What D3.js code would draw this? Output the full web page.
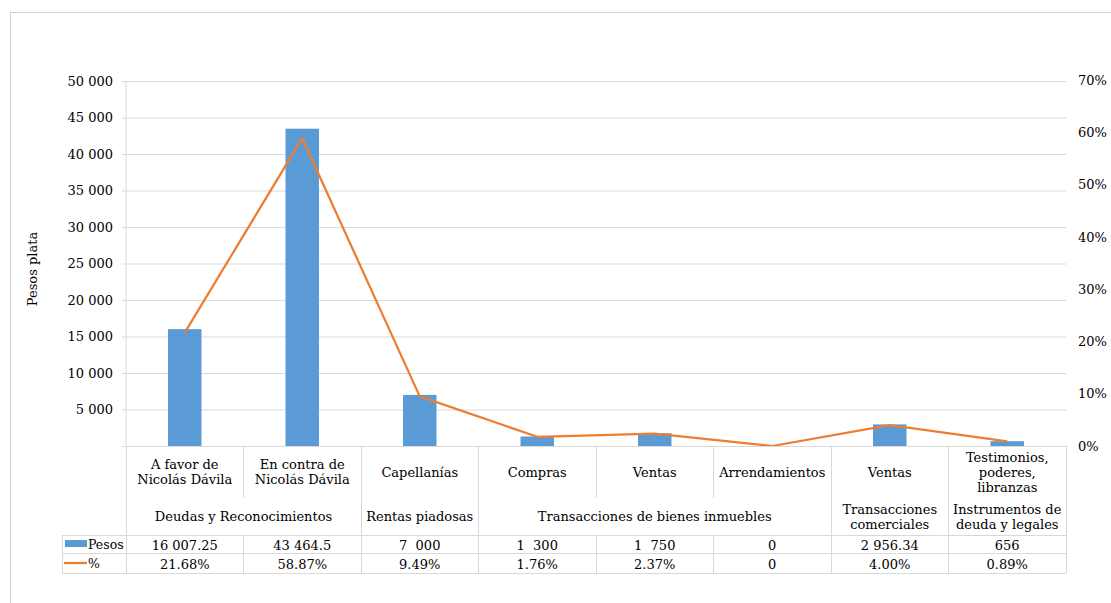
<!DOCTYPE html>
<html>
<head>
<meta charset="utf-8">
<script src="https://cdn.jsdelivr.net/npm/d3@7"></script>
<style>
    body { margin: 0; background: #fff; }
    text { font-family: "DejaVu Serif", serif; fill: #000; white-space: pre; }
</style>
</head>
<body>
<svg></svg>
<script>
// data
var categories = [
    ["A favor de", "Nicolás Dávila"],
    ["En contra de", "Nicolás Dávila"],
    ["Capellanías"],
    ["Compras"],
    ["Ventas"],
    ["Arrendamientos"],
    ["Ventas"],
    ["Testimonios,", "poderes,", "libranzas"]
];
// group label, first column, number of columns
var groups = [
    { label: ["Deudas y Reconocimientos"], start: 0, span: 2 },
    { label: ["Rentas piadosas"], start: 2, span: 1 },
    { label: ["Transacciones de bienes inmuebles"], start: 3, span: 3 },
    { label: ["Transacciones", "comerciales"], start: 6, span: 1 },
    { label: ["Instrumentos de", "deuda y legales"], start: 7, span: 1 }
];
var pesos = [16007.25, 43464.5, 7000, 1300, 1750, 0, 2956.34, 656];
var percent = [21.68, 58.87, 9.49, 1.76, 2.37, 0, 4.00, 0.89];
var pesosLabels = ["16 007.25", "43 464.5", "7  000", "1  300", "1  750", "0", "2 956.34", "656"];
var percentLabels = ["21.68%", "58.87%", "9.49%", "1.76%", "2.37%", "0", "4.00%", "0.89%"];
var leftTicks = [5000, 10000, 15000, 20000, 25000, 30000, 35000, 40000, 45000, 50000];
var rightTicks = [0, 10, 20, 30, 40, 50, 60, 70];

var svgWidth = 1111, svgHeight = 603;
// plot area (window.top is reserved, so plot* names)
var plotLeft = 126, plotRight = 1066, plotTop = 81, plotBottom = 446;
var fontSize = 13;
var gridColor = "#d9d9d9";

var svg = d3.select("svg")
    .attr("width", svgWidth)
    .attr("height", svgHeight);

// outer frame of the chart
svg.append("rect")
    .attr("x", 10.5).attr("y", 12.5)
    .attr("width", svgWidth + 10).attr("height", svgHeight + 10)
    .attr("fill", "none")
    .attr("stroke", "#d0d0d0");

var x = d3.scaleBand()
    .domain(d3.range(categories.length))
    .range([plotLeft, plotRight]);

var yLeft = d3.scaleLinear().domain([0, 50000]).range([plotBottom, plotTop]);
var yRight = d3.scaleLinear().domain([0, 70]).range([plotBottom, plotTop - 1]);

var fmt = d3.formatLocale({ decimal: ".", thousands: " ", grouping: [3], currency: ["", ""] }).format(",");

// gridlines + left tick labels
var leftAxis = d3.axisLeft(yLeft)
    .tickValues(leftTicks)
    .tickSize(0)
    .tickFormat(fmt);

var gLeft = svg.append("g")
    .attr("transform", "translate(" + plotLeft + ",0)")
    .call(leftAxis);
gLeft.select(".domain").remove();
gLeft.selectAll(".tick line")
    .attr("x1", -4)
    .attr("x2", plotRight - plotLeft)
    .attr("stroke", gridColor);
gLeft.selectAll(".tick text")
    .style("font-family", "DejaVu Serif")
    .style("font-size", fontSize + "px")
    .attr("x", -13);

// left vertical axis line
svg.append("line")
    .attr("x1", plotLeft).attr("x2", plotLeft)
    .attr("y1", plotTop).attr("y2", plotBottom)
    .attr("stroke", gridColor);

// right axis labels (no line)
var rightAxis = d3.axisRight(yRight)
    .tickValues(rightTicks)
    .tickSize(0)
    .tickPadding(12)
    .tickFormat(function (d) { return d + "%"; });

var gRight = svg.append("g")
    .attr("transform", "translate(" + plotRight + ",0)")
    .call(rightAxis);
gRight.select(".domain").remove();
gRight.selectAll(".tick text")
    .style("font-family", "DejaVu Serif")
    .style("font-size", fontSize + "px");

// axis title
svg.append("text")
    .attr("transform", "translate(37," + 269 + ") rotate(-90)")
    .attr("text-anchor", "middle")
    .style("font-size", fontSize + "px")
    .text("Pesos plata");

// bars
var barWidth = x.bandwidth() * 0.285;
svg.selectAll(".bar")
    .data(pesos)
    .enter()
    .append("rect")
    .attr("class", "bar")
    .attr("x", function (d, i) { return x(i) + (x.bandwidth() - barWidth) / 2; })
    .attr("y", function (d) { return yLeft(d); })
    .attr("width", barWidth)
    .attr("height", function (d) { return plotBottom - yLeft(d); })
    .attr("fill", "#5b9bd5");

// percentage line
var line = d3.line()
    .x(function (d, i) { return x(i) + x.bandwidth() / 2; })
    .y(function (d) { return yRight(d); });

svg.append("path")
    .datum(percent)
    .attr("d", line)
    .attr("fill", "none")
    .attr("stroke", "#ed7d31")
    .attr("stroke-width", 2.25)
    .attr("stroke-linejoin", "round");

// ---- table under the plot ----
var row1Bottom = 498, row2Bottom = 535, row3Bottom = 553, row4Bottom = 573;
var legendLeft = 62;
var lineH = 15;

var table = svg.append("g")
    .attr("stroke", gridColor)
    .attr("shape-rendering", "crispEdges");

// horizontal lines
table.append("line").attr("x1", plotLeft - 4).attr("x2", plotRight).attr("y1", plotBottom).attr("y2", plotBottom);
[row2Bottom, row3Bottom, row4Bottom].forEach(function (yy) {
    table.append("line").attr("x1", legendLeft).attr("x2", plotRight).attr("y1", yy).attr("y2", yy);
});
// left + right edges
table.append("line").attr("x1", plotLeft).attr("x2", plotLeft).attr("y1", plotBottom).attr("y2", row4Bottom);
table.append("line").attr("x1", plotRight).attr("x2", plotRight).attr("y1", plotBottom).attr("y2", row4Bottom);
table.append("line").attr("x1", legendLeft).attr("x2", legendLeft).attr("y1", row2Bottom).attr("y2", row4Bottom);

// inner column boundaries: full height where a group starts, else only in first row
var groupStarts = groups.map(function (g) { return g.start; });
d3.range(1, categories.length).forEach(function (i) {
    var xx = x(i);
    var isGroup = groupStarts.indexOf(i) >= 0;
    table.append("line")
        .attr("x1", xx).attr("x2", xx)
        .attr("y1", plotBottom)
        .attr("y2", isGroup ? row2Bottom : row1Bottom);
    table.append("line")
        .attr("x1", xx).attr("x2", xx)
        .attr("y1", row2Bottom).attr("y2", row4Bottom);
});

// writes centered multi-line text
function multiLine(lines, cx, cy) {
    var t = svg.append("text")
        .attr("text-anchor", "middle")
        .style("font-size", fontSize + "px");
    lines.forEach(function (s, k) {
        t.append("tspan")
            .attr("x", cx)
            .attr("y", cy + (k - (lines.length - 1) / 2) * lineH)
            .attr("dy", "0.35em")
            .text(s);
    });
}

categories.forEach(function (c, i) {
    multiLine(c, x(i) + x.bandwidth() / 2, (plotBottom + row1Bottom) / 2);
});

groups.forEach(function (g) {
    var cx = x(g.start) + g.span * x.bandwidth() / 2;
    multiLine(g.label, cx, (row1Bottom + row2Bottom) / 2);
});

pesosLabels.forEach(function (s, i) {
    multiLine([s], x(i) + x.bandwidth() / 2, (row2Bottom + row3Bottom) / 2 + 1);
});
percentLabels.forEach(function (s, i) {
    multiLine([s], x(i) + x.bandwidth() / 2, (row3Bottom + row4Bottom) / 2 + 1);
});

// legend keys in the table
svg.append("rect")
    .attr("x", 65).attr("y", 540)
    .attr("width", 22).attr("height", 7)
    .attr("fill", "#5b9bd5");
svg.append("text")
    .attr("x", 88).attr("y", (row2Bottom + row3Bottom) / 2 + 1)
    .attr("dy", "0.35em")
    .style("font-size", "12.5px")
    .text("Pesos");
svg.append("line")
    .attr("x1", 64).attr("x2", 87)
    .attr("y1", 563).attr("y2", 563)
    .attr("stroke", "#ed7d31")
    .attr("stroke-width", 2.25);
svg.append("text")
    .attr("x", 88).attr("y", (row3Bottom + row4Bottom) / 2 + 1)
    .attr("dy", "0.35em")
    .style("font-size", "12.5px")
    .text("%");
</script>
</body>
</html>
